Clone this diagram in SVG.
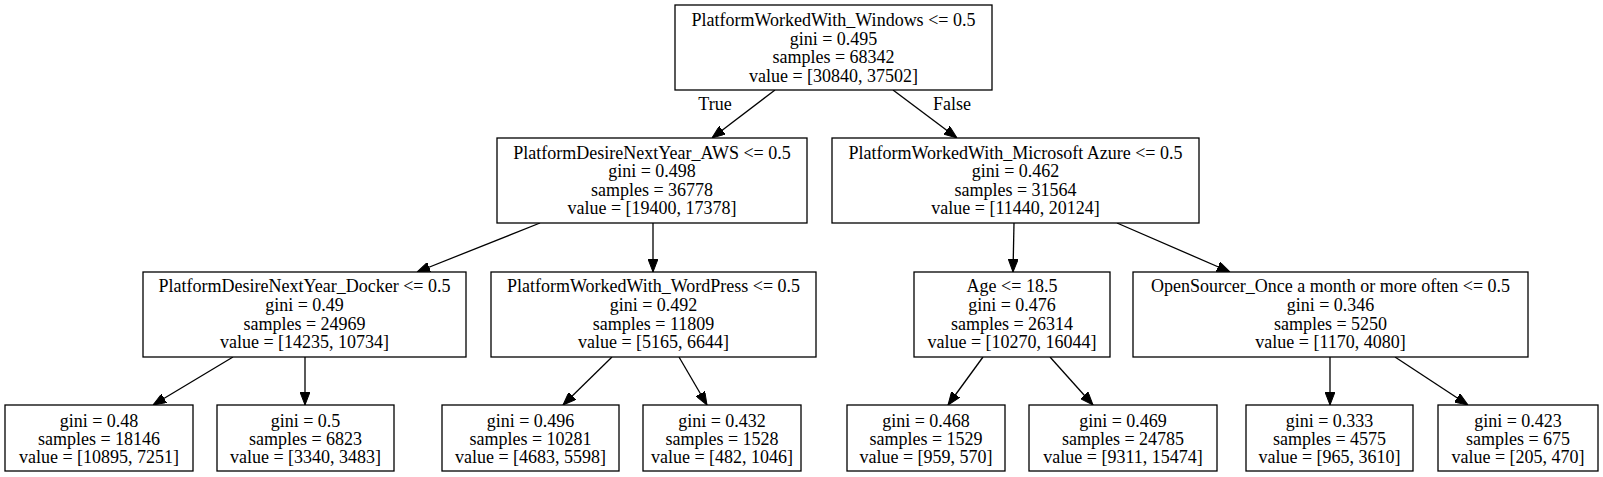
<svg xmlns="http://www.w3.org/2000/svg" width="1603" height="477" viewBox="0 0 1603 477">
<style>
.box{fill:#fff;stroke:#000;stroke-width:1.3}
text{font-family:"Liberation Serif","Times New Roman",serif;font-size:18px;fill:#000;text-anchor:middle}
.edge{stroke:#000;stroke-width:1.3;fill:none;marker-end:url(#arr)}
</style>
<defs>
<marker id="arr" viewBox="0 0 13 10" refX="13" refY="5" markerWidth="13" markerHeight="10" markerUnits="userSpaceOnUse" orient="auto">
<path d="M0,0 L13,5 L0,10 z" fill="#000" stroke="#000" stroke-width="1"/>
</marker>
</defs>
<rect width="1603" height="477" fill="#fff"/>
<g id="connectors">
<line class="edge" x1="775" y1="90" x2="712" y2="138"/>
<line class="edge" x1="893" y1="90" x2="957" y2="138"/>
<line class="edge" x1="540" y1="223" x2="417" y2="272"/>
<line class="edge" x1="653" y1="223" x2="653" y2="272"/>
<line class="edge" x1="1014" y1="223" x2="1013" y2="272"/>
<line class="edge" x1="1117" y1="223" x2="1230" y2="272"/>
<line class="edge" x1="233" y1="357" x2="153" y2="405"/>
<line class="edge" x1="305" y1="357" x2="305" y2="405"/>
<line class="edge" x1="612" y1="357" x2="563" y2="405"/>
<line class="edge" x1="679" y1="357" x2="707" y2="405"/>
<line class="edge" x1="983" y1="357" x2="948" y2="405"/>
<line class="edge" x1="1050" y1="357" x2="1093" y2="405"/>
<line class="edge" x1="1330" y1="357" x2="1330" y2="405"/>
<line class="edge" x1="1395" y1="357" x2="1468" y2="405"/>
<text x="715" y="110">True</text>
<text x="952" y="110">False</text>
</g>
<g id="n0">
<rect class="box" x="675" y="5" width="317" height="85"/>
<text x="833.5" y="26">PlatformWorkedWith_Windows &lt;= 0.5</text>
<text x="833.5" y="44.5">gini = 0.495</text>
<text x="833.5" y="63">samples = 68342</text>
<text x="833.5" y="81.5">value = [30840, 37502]</text>
</g>
<g id="n1">
<rect class="box" x="497" y="138" width="310" height="85"/>
<text x="652" y="158.5">PlatformDesireNextYear_AWS &lt;= 0.5</text>
<text x="652" y="177">gini = 0.498</text>
<text x="652" y="195.7">samples = 36778</text>
<text x="652" y="214.3">value = [19400, 17378]</text>
</g>
<g id="n2">
<rect class="box" x="832" y="138" width="367" height="85"/>
<text x="1015.5" y="158.5">PlatformWorkedWith_Microsoft Azure &lt;= 0.5</text>
<text x="1015.5" y="177">gini = 0.462</text>
<text x="1015.5" y="195.7">samples = 31564</text>
<text x="1015.5" y="214.3">value = [11440, 20124]</text>
</g>
<g id="n3">
<rect class="box" x="143" y="272" width="323" height="85"/>
<text x="304.5" y="292.3">PlatformDesireNextYear_Docker &lt;= 0.5</text>
<text x="304.5" y="310.8">gini = 0.49</text>
<text x="304.5" y="329.5">samples = 24969</text>
<text x="304.5" y="348">value = [14235, 10734]</text>
</g>
<g id="n4">
<rect class="box" x="491" y="272" width="325" height="85"/>
<text x="653.5" y="292.3">PlatformWorkedWith_WordPress &lt;= 0.5</text>
<text x="653.5" y="310.8">gini = 0.492</text>
<text x="653.5" y="329.5">samples = 11809</text>
<text x="653.5" y="348">value = [5165, 6644]</text>
</g>
<g id="n5">
<rect class="box" x="914" y="272" width="196" height="85"/>
<text x="1012" y="292.3">Age &lt;= 18.5</text>
<text x="1012" y="310.8">gini = 0.476</text>
<text x="1012" y="329.5">samples = 26314</text>
<text x="1012" y="348">value = [10270, 16044]</text>
</g>
<g id="n6">
<rect class="box" x="1133" y="272" width="395" height="85"/>
<text x="1330.5" y="292.3">OpenSourcer_Once a month or more often &lt;= 0.5</text>
<text x="1330.5" y="310.8">gini = 0.346</text>
<text x="1330.5" y="329.5">samples = 5250</text>
<text x="1330.5" y="348">value = [1170, 4080]</text>
</g>
<g id="l1">
<rect class="box" x="5" y="405" width="188" height="66"/>
<text x="99" y="426.5">gini = 0.48</text>
<text x="99" y="444.5">samples = 18146</text>
<text x="99" y="462.5">value = [10895, 7251]</text>
</g>
<g id="l2">
<rect class="box" x="217" y="405" width="177" height="66"/>
<text x="305.5" y="426.5">gini = 0.5</text>
<text x="305.5" y="444.5">samples = 6823</text>
<text x="305.5" y="462.5">value = [3340, 3483]</text>
</g>
<g id="l3">
<rect class="box" x="442" y="405" width="177" height="66"/>
<text x="530.5" y="426.5">gini = 0.496</text>
<text x="530.5" y="444.5">samples = 10281</text>
<text x="530.5" y="462.5">value = [4683, 5598]</text>
</g>
<g id="l4">
<rect class="box" x="643" y="405" width="158" height="66"/>
<text x="722" y="426.5">gini = 0.432</text>
<text x="722" y="444.5">samples = 1528</text>
<text x="722" y="462.5">value = [482, 1046]</text>
</g>
<g id="l5">
<rect class="box" x="847" y="405" width="158" height="66"/>
<text x="926" y="426.5">gini = 0.468</text>
<text x="926" y="444.5">samples = 1529</text>
<text x="926" y="462.5">value = [959, 570]</text>
</g>
<g id="l6">
<rect class="box" x="1029" y="405" width="188" height="66"/>
<text x="1123" y="426.5">gini = 0.469</text>
<text x="1123" y="444.5">samples = 24785</text>
<text x="1123" y="462.5">value = [9311, 15474]</text>
</g>
<g id="l7">
<rect class="box" x="1246" y="405" width="167" height="66"/>
<text x="1329.5" y="426.5">gini = 0.333</text>
<text x="1329.5" y="444.5">samples = 4575</text>
<text x="1329.5" y="462.5">value = [965, 3610]</text>
</g>
<g id="l8">
<rect class="box" x="1438" y="405" width="160" height="66"/>
<text x="1518" y="426.5">gini = 0.423</text>
<text x="1518" y="444.5">samples = 675</text>
<text x="1518" y="462.5">value = [205, 470]</text>
</g>
</svg>
